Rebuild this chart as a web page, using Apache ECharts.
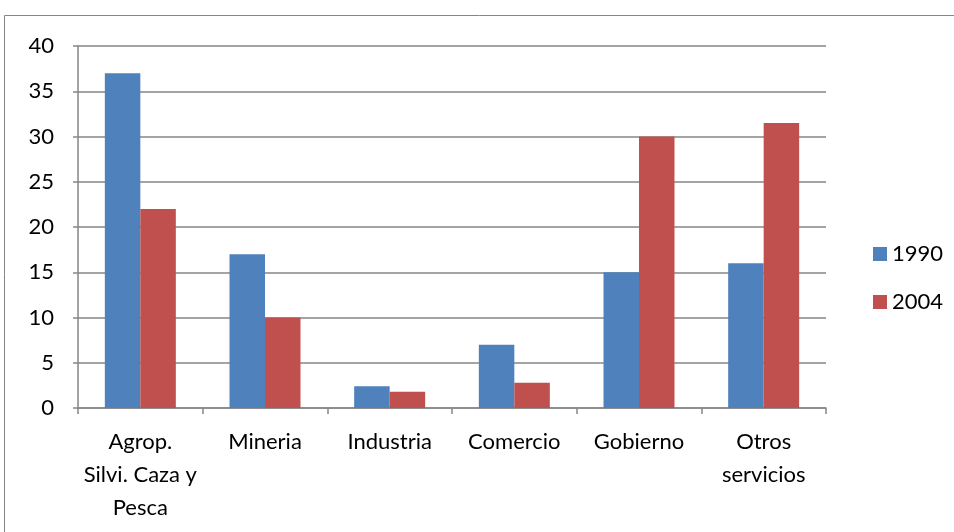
<!DOCTYPE html>
<html>
<head>
<meta charset="utf-8">
<script src="https://cdn.jsdelivr.net/npm/echarts@6/dist/echarts.min.js"></script>
<style>html,body{margin:0;padding:0;background:#fff}#c{width:954px;height:532px}</style>
</head>
<body>
<div id="c"></div>
<script>
const categories = ['Agrop.\nSilvi. Caza y\nPesca', 'Mineria', 'Industria', 'Comercio', 'Gobierno', 'Otros\nservicios'];
const seriesNames = ['1990', '2004'];
const values1990 = [37, 17, 2.4, 7, 15, 16];
const values2004 = [22, 10, 1.8, 2.8, 30, 31.5];
const yTicks = { min: 0, max: 40, interval: 5 };

const font = 'Lato, "Open Sans", sans-serif';
const chart = echarts.init(document.getElementById('c'), null, { renderer: 'canvas' });
chart.setOption({
  animation: false,
  graphic: [{
    type: 'rect', shape: { x: 4.5, y: 15.5, width: 960, height: 530 },
    style: { fill: 'none', stroke: '#868686', lineWidth: 1 }, z: -1
  }],
  grid: { left: 78, right: 128, top: 46, bottom: 124 },
  legend: {
    orient: 'vertical', left: 868, top: 238, itemWidth: 14, itemHeight: 14, itemGap: 26,
    icon: 'rect',
    textStyle: { fontFamily: font, fontSize: 22, lineHeight: 22, color: '#000' },
    data: seriesNames
  },
  xAxis: {
    type: 'category', data: categories,
    axisLine: { lineStyle: { color: '#868686', width: 1.5 } },
    axisTick: { show: true, length: 6, lineStyle: { color: '#868686', width: 1.5 } },
    axisLabel: { fontFamily: font, fontSize: 22, color: '#000', lineHeight: 33, margin: 17, interval: 0 }
  },
  yAxis: {
    type: 'value', min: yTicks.min, max: yTicks.max, interval: yTicks.interval,
    axisLine: { show: true, lineStyle: { color: '#868686', width: 1.5 } },
    axisTick: { show: true, length: 5, inside: false, lineStyle: { color: '#868686', width: 1.5 } },
    splitLine: { lineStyle: { color: '#868686', width: 1.5 } },
    axisLabel: { fontFamily: font, fontSize: 22, color: '#000', margin: 24 }
  },
  series: [
    { name: seriesNames[0], type: 'bar', data: values1990, barWidth: 35.5, barGap: '0%',
      itemStyle: { color: '#4F81BD' } },
    { name: seriesNames[1], type: 'bar', data: values2004, barWidth: 35.5, barGap: '0%',
      itemStyle: { color: '#C0504D' } }
  ]
});
</script>
</body>
</html>
